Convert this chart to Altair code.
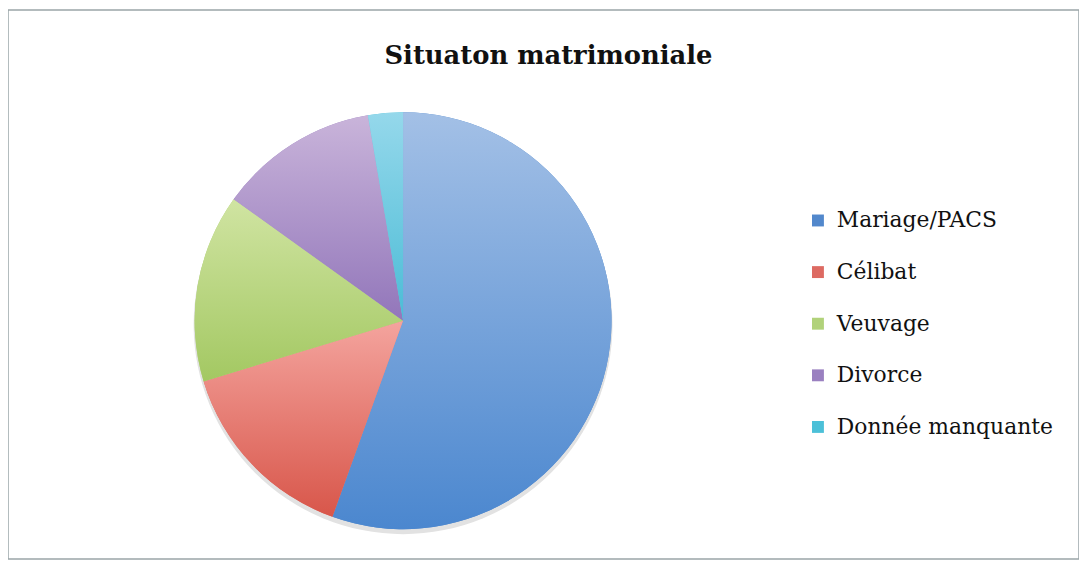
import math
import altair as alt
import pandas as pd

categories = ["Mariage/PACS", "Célibat", "Veuvage", "Divorce", "Donnée manquante"]
values = [55.5, 14.8, 14.6, 12.4, 2.7]

legend_colors = ["#5288cc", "#dd6a62", "#b1d27a", "#9a80c0", "#4cc0d8"]
gradient_top = ["#a3c0e6", "#f4a49e", "#d0e4a2", "#c9b4da", "#95d8eb"]
gradient_bottom = ["#4b87cf", "#d8564a", "#a3c862", "#9276ba", "#4bbcd6"]

df = pd.DataFrame({"cat": categories, "value": values})
df["end"] = df["value"].cumsum()
df["start"] = df["end"] - df["value"]
total = float(df["value"].sum())

CX, CY, R = 398, 313, 210
theta_scale = alt.Scale(domain=[0, total], range=[0, 2 * math.pi])

shadow = (
    alt.Chart(df)
    .transform_aggregate(total="sum(value)")
    .mark_arc(radius=R + 1, theta=0, theta2=2 * math.pi, color="#e2e2e2")
    .encode(x=alt.value(CX), y=alt.value(CY + 4))
)

base = (
    alt.Chart(df)
    .mark_arc(radius=R)
    .encode(
        x=alt.value(CX),
        y=alt.value(CY),
        theta=alt.Theta("start:Q", scale=theta_scale),
        theta2="end:Q",
        color=alt.Color(
            "cat:N",
            sort=categories,
            scale=alt.Scale(domain=categories, range=legend_colors),
            legend=alt.Legend(
                title=None,
                orient="none",
                legendX=805,
                legendY=201,
                labelFont="DejaVu Serif",
                labelFontSize=22,
                labelColor="#111111",
                labelOffset=8,
                symbolType="square",
                symbolSize=144,
                symbolStrokeWidth=0,
                rowPadding=30,
                padding=0,
                labelLimit=400,
            ),
        ),
    )
)

layers = [shadow, base]
for cat, top, bottom in zip(categories, gradient_top, gradient_bottom):
    layers.append(
        alt.Chart(df)
        .transform_filter(alt.datum.cat == cat)
        .mark_arc(
            radius=R,
            color=alt.LinearGradient(
                gradient="linear",
                stops=[
                    alt.GradientStop(color=top, offset=0),
                    alt.GradientStop(color=bottom, offset=1),
                ],
                x1=0, x2=0, y1=0, y2=1,
            ),
        )
        .encode(
            x=alt.value(CX),
            y=alt.value(CY),
            theta=alt.Theta("start:Q", scale=theta_scale),
            theta2="end:Q",
        )
    )

chart = (
    alt.layer(*layers)
    .properties(
        width=1079,
        height=553,
        padding=0,
        autosize="none",
        background="white",
        title=alt.TitleParams(
            "Situaton matrimoniale",
            font="DejaVu Serif",
            fontSize=26,
            fontWeight="bold",
            color="#111111",
            anchor="middle",
            frame="group",
            baseline="alphabetic",
            offset=-80,
            dx=5,
        ),
    )
    .configure_view(stroke="#9aa5a8", strokeWidth=1.5)
)

chart.save("out.html", embed_options={"renderer": "svg", "actions": False})
